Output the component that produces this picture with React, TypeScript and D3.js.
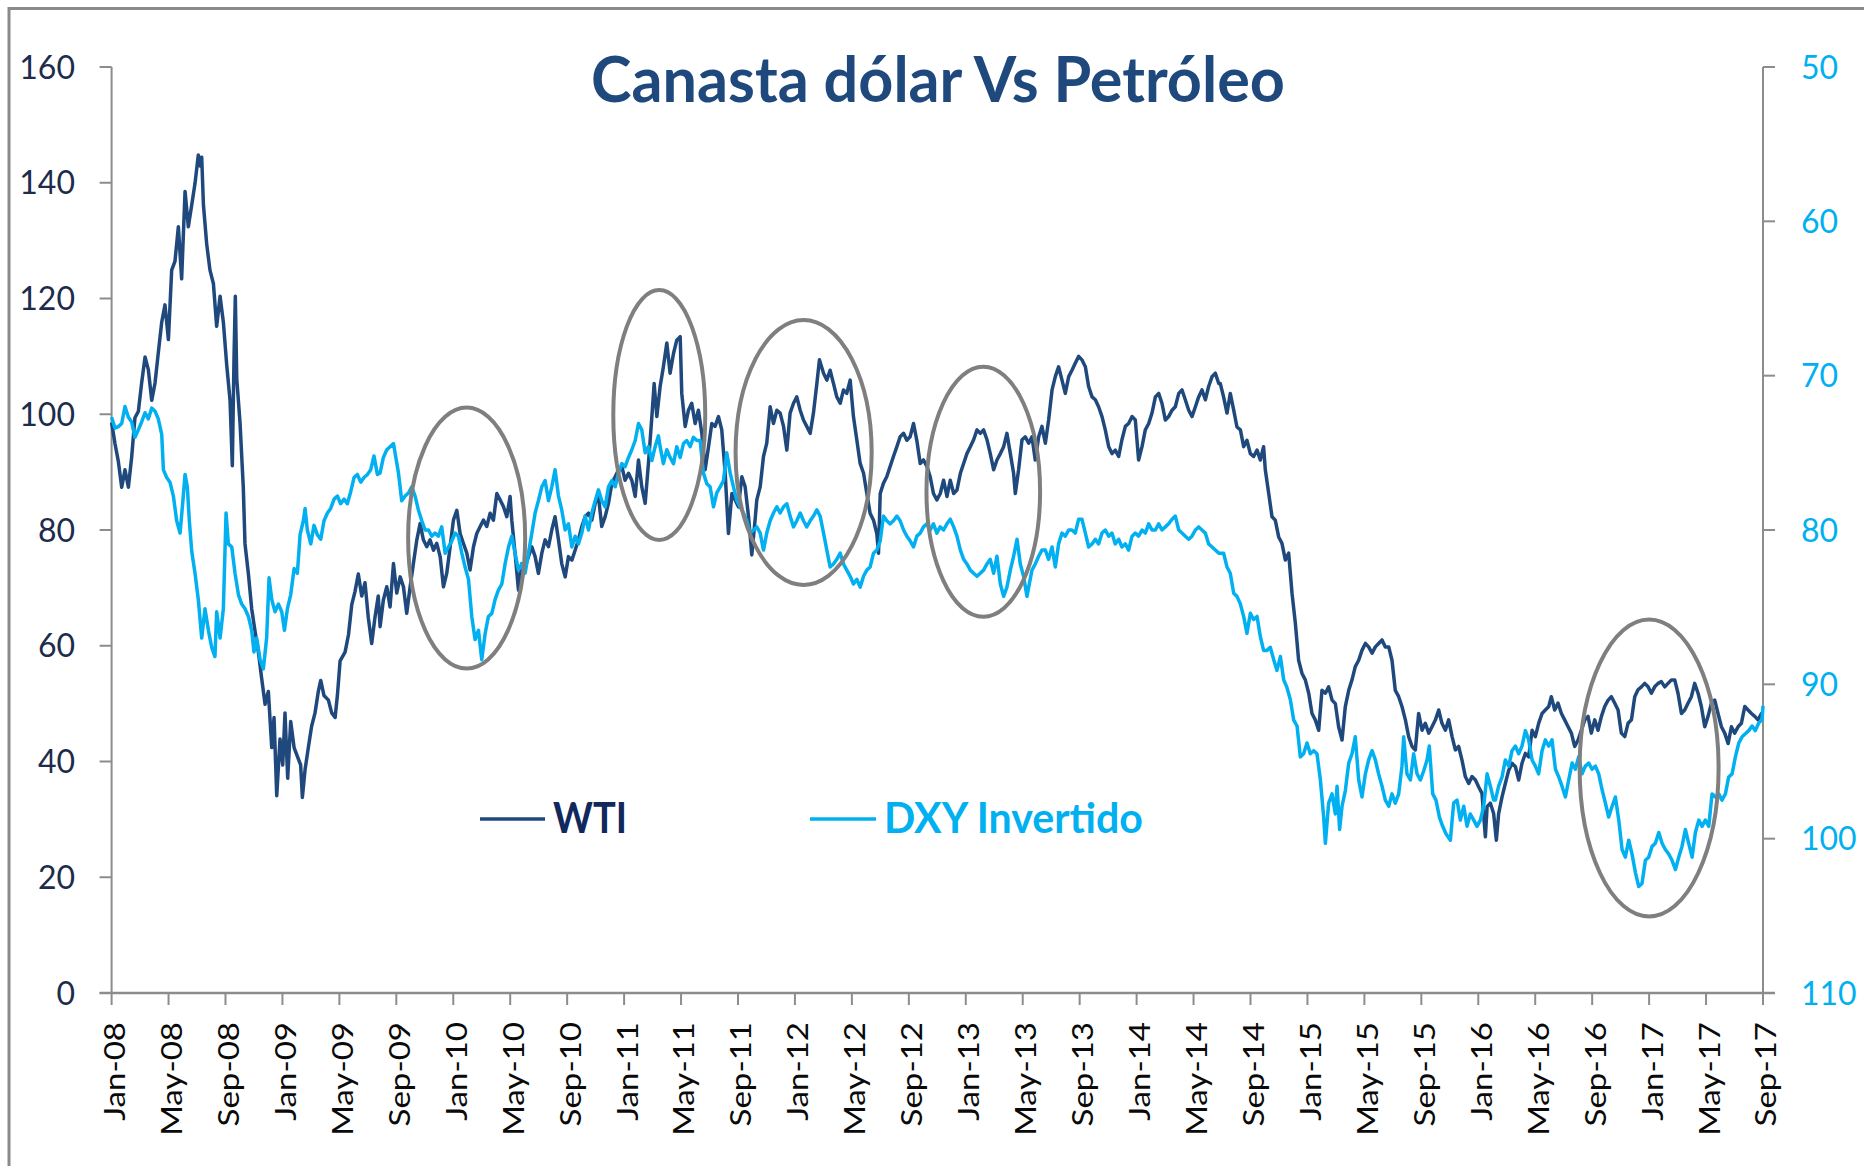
import React from 'react';
import * as d3 from 'd3';

const TITLE = 'Canasta dólar Vs Petróleo';
const WTI_LABEL = 'WTI';
const DXY_LABEL = 'DXY Invertido';

const leftTicks = [0, 20, 40, 60, 80, 100, 120, 140, 160];
const rightTicks = [50, 60, 70, 80, 90, 100, 110];
const xTickLabels = [
  'Jan-08', 'May-08', 'Sep-08', 'Jan-09', 'May-09', 'Sep-09', 'Jan-10', 'May-10', 'Sep-10',
  'Jan-11', 'May-11', 'Sep-11', 'Jan-12', 'May-12', 'Sep-12', 'Jan-13', 'May-13', 'Sep-13',
  'Jan-14', 'May-14', 'Sep-14', 'Jan-15', 'May-15', 'Sep-15', 'Jan-16', 'May-16', 'Sep-16',
  'Jan-17', 'May-17', 'Sep-17',
];
const MONTHS_PER_TICK = 4;
const MONTH_DOMAIN: [number, number] = [0, 116]; // months since Jan-08

// WTI (USD/bbl) — [months since Jan-08, value]
const wti2008: [number, number][] = [
  [0, 98.6], [0.24, 94.9], [0.47, 91.9], [0.71, 87.4], [0.94, 90.4], [1.18, 87.4], [1.41, 92.6], [1.64, 99.4],
  [1.88, 100.5], [2.11, 105.4], [2.35, 109.9], [2.58, 107.7], [2.82, 102.4], [3.05, 105.4], [3.28, 110.6],
  [3.52, 115.9], [3.75, 118.9], [3.99, 112.9], [4.22, 124.9], [4.45, 126.4], [4.69, 132.4], [4.92, 123.4],
  [5.16, 138.5], [5.39, 132.4], [5.63, 136.2], [5.86, 139.9], [6.09, 144.8], [6.21, 142.9], [6.33, 144.4],
  [6.45, 136.2], [6.68, 129.4], [6.91, 124.9], [7.15, 122.6], [7.38, 115.2], [7.62, 120.4], [7.85, 115.9],
  [8.09, 108.4], [8.32, 102.4], [8.48, 91.1], [8.6, 109.9], [8.69, 120.4], [8.79, 106.2], [9.02, 98.6],
  [9.25, 87.4], [9.37, 77.6], [9.61, 72.4], [9.84, 66.4], [10.07, 62.6], [10.31, 58.9], [10.54, 54.4],
  [10.78, 49.9], [11.01, 52.1], [11.25, 42.4], [11.41, 47.6], [11.6, 34.1], [11.83, 43.9], [12.02, 39.4],
  [12.18, 48.4], [12.37, 37.1], [12.58, 46.9], [12.82, 42.4], [13.05, 40.9], [13.28, 39.4], [13.4, 33.8],
  [13.59, 38.6], [13.82, 42.4], [14.05, 46.1], [14.29, 48.4], [14.52, 52.1], [14.69, 54.0], [14.92, 51.4],
  [15.23, 50.6], [15.46, 48.4], [15.7, 47.6], [15.86, 51.4], [16.05, 57.4], [16.4, 58.9], [16.64, 61.9],
  [16.87, 67.1], [17.1, 69.4], [17.33, 72.4], [17.57, 68.6], [17.8, 70.9], [18.03, 64.9], [18.27, 60.4],
  [18.5, 64.9], [18.73, 68.6],
];
const wti2010: [number, number][] = [
  [18.86, 63.3], [19.09, 67.9], [19.33, 70.2], [19.56, 66.7], [19.8, 74.2], [20.03, 69.1], [20.27, 71.9],
  [20.5, 70.2], [20.73, 65.6], [20.97, 70.2], [21.2, 74.2], [21.44, 78.3], [21.67, 81.1], [21.9, 78.3],
  [22.14, 77.1], [22.37, 78.3], [22.61, 76.5], [22.84, 77.7], [23.08, 75.4], [23.31, 70.2], [23.54, 72.5],
  [23.78, 77.1], [24.01, 81.7], [24.25, 83.4], [24.48, 79.4], [24.71, 77.7], [24.95, 76.0], [25.18, 73.1],
  [25.42, 77.1], [25.65, 79.4], [25.89, 80.6], [26.12, 81.7], [26.35, 80.6], [26.59, 82.9], [26.82, 81.7],
  [27.06, 86.3], [27.29, 85.2], [27.53, 84.0], [27.76, 82.3], [27.99, 85.8], [28.11, 81.7], [28.34, 76.0],
  [28.58, 69.6], [28.81, 74.2], [29.05, 73.6], [29.28, 75.4], [29.52, 77.1], [29.75, 75.4], [29.98, 72.5],
  [30.22, 76.0], [30.45, 78.3], [30.69, 77.1], [30.92, 80.0], [31.15, 82.3], [31.39, 78.3], [31.62, 74.2],
  [31.86, 71.9], [32.09, 75.4], [32.33, 74.8], [32.56, 76.5], [32.79, 78.3], [33.03, 80.6], [33.26, 82.3],
  [33.5, 82.9], [33.73, 81.7], [33.97, 84.6], [34.2, 85.8], [34.43, 80.6], [34.67, 82.3], [34.9, 84.6],
  [35.14, 88.1], [35.37, 89.2], [35.61, 90.4], [35.84, 91.0], [36.07, 88.6], [36.31, 89.8], [36.54, 88.6],
  [36.78, 85.8], [37.01, 92.1], [37.24, 87.5], [37.48, 84.6], [37.71, 91.5], [37.95, 99.6], [38.11, 105.3],
  [38.3, 99.6],
];
const wti2011: [number, number][] = [
  [38.53, 104.8], [38.76, 108.2], [39.0, 112.3], [39.23, 107.1], [39.47, 110.5], [39.7, 112.8], [39.94, 113.4],
  [40.05, 103.6], [40.29, 97.9], [40.52, 100.7], [40.75, 101.9], [40.99, 98.4], [41.22, 100.7], [41.46, 96.7],
  [41.69, 90.4], [41.93, 94.4], [42.16, 98.4], [42.39, 97.9], [42.63, 99.6], [42.86, 97.3], [43.1, 89.8],
  [43.33, 79.4], [43.57, 86.3], [43.8, 85.2], [44.03, 84.0], [44.27, 89.2], [44.5, 87.5], [44.74, 82.3],
  [44.97, 75.7], [45.2, 81.7], [45.32, 85.2], [45.56, 87.5], [45.79, 92.7], [46.02, 95.0], [46.26, 101.3],
  [46.49, 98.4], [46.73, 100.7], [46.96, 100.2], [47.2, 97.9], [47.43, 93.8], [47.66, 100.2], [47.9, 101.9],
  [48.13, 103.0], [48.37, 100.7], [48.6, 99.0], [48.83, 97.9], [49.07, 96.7], [49.3, 100.2], [49.54, 105.3],
  [49.72, 109.4], [50.01, 107.1], [50.24, 105.9], [50.47, 107.6], [50.71, 105.3], [50.94, 103.0], [51.18, 101.9],
  [51.41, 104.2], [51.64, 103.6], [51.88, 105.9], [52.11, 99.6], [52.35, 95.5], [52.58, 91.5], [52.82, 89.8],
  [53.05, 86.3], [53.28, 82.9], [53.52, 81.7], [53.75, 79.4], [53.87, 76.0], [53.99, 86.3], [54.22, 88.1],
  [54.45, 89.2], [54.69, 91.0], [54.92, 92.7], [55.16, 94.4], [55.39, 96.1], [55.63, 96.7], [55.86, 95.5],
  [56.09, 96.1], [56.33, 98.4], [56.56, 95.5], [56.8, 91.5], [57.03, 92.1], [57.27, 91.0], [57.5, 89.2],
  [57.73, 86.3], [57.97, 85.2],
];
const wti2013: [number, number][] = [
  [58.21, 86.3], [58.44, 88.6], [58.68, 85.8], [58.91, 88.6], [59.15, 86.3], [59.38, 86.9], [59.62, 89.8],
  [59.85, 91.5], [60.08, 93.2], [60.32, 94.4], [60.55, 95.6], [60.79, 97.3], [61.02, 96.7], [61.25, 97.3],
  [61.49, 95.6], [61.72, 93.2], [61.96, 90.4], [62.19, 92.1], [62.43, 93.2], [62.66, 94.4], [62.89, 96.7],
  [63.13, 93.2], [63.36, 89.8], [63.48, 86.3], [63.71, 90.4], [63.95, 95.6], [64.18, 96.1], [64.42, 95.0],
  [64.65, 96.1], [64.88, 92.1], [65.12, 96.1], [65.35, 97.9], [65.59, 95.0], [65.82, 99.0], [66.06, 104.2],
  [66.29, 106.5], [66.52, 108.2], [66.76, 105.9], [66.99, 103.6], [67.23, 106.5], [67.46, 107.6], [67.69, 108.8],
  [67.93, 110.0], [68.16, 109.4], [68.4, 108.2], [68.63, 104.8], [68.87, 103.0], [69.1, 102.5], [69.33, 101.3],
  [69.57, 99.6], [69.8, 97.3], [70.04, 94.4], [70.27, 93.2], [70.5, 93.8], [70.74, 92.7], [70.97, 95.6],
  [71.21, 97.9], [71.44, 98.4], [71.68, 99.6], [71.91, 99.0], [72.14, 92.1], [72.38, 94.4], [72.61, 97.3],
  [72.85, 98.4], [73.08, 100.2], [73.32, 103.0], [73.55, 103.6], [73.78, 101.9], [74.02, 99.0], [74.25, 99.6],
  [74.49, 100.7], [74.72, 101.3], [74.96, 103.6], [75.19, 104.2], [75.42, 102.5], [75.66, 100.7], [75.89, 99.6],
  [76.13, 101.3], [76.36, 103.0], [76.59, 104.2], [76.83, 102.5], [77.06, 104.8], [77.3, 106.5], [77.53, 107.1],
  [77.77, 105.3],
];
const wti2014: [number, number][] = [
  [77.88, 105.3], [78.11, 103.0], [78.35, 100.2], [78.58, 103.6], [78.82, 100.7], [79.05, 97.8], [79.29, 97.3],
  [79.52, 94.4], [79.75, 95.5], [79.99, 93.2], [80.22, 92.7], [80.46, 93.8], [80.69, 92.1], [80.92, 94.4],
  [81.04, 90.4], [81.28, 86.3], [81.51, 82.3], [81.74, 81.7], [81.98, 78.8], [82.21, 77.7], [82.45, 74.8],
  [82.68, 76.0], [82.92, 69.0], [83.15, 63.9], [83.38, 57.5], [83.62, 55.2], [83.85, 54.1], [84.09, 51.8],
  [84.32, 48.3], [84.55, 47.2], [84.79, 45.4], [85.02, 52.3], [85.26, 51.8], [85.49, 52.9], [85.73, 50.6],
  [85.96, 50.0], [86.19, 46.0], [86.43, 43.7], [86.66, 49.5], [86.9, 52.3], [87.13, 54.1], [87.36, 56.4],
  [87.6, 57.5], [87.83, 59.2], [88.07, 60.4], [88.3, 59.8], [88.54, 58.7], [88.77, 59.8], [89.0, 60.4],
  [89.24, 61.0], [89.47, 59.8], [89.71, 59.8], [89.94, 57.5], [90.17, 52.3], [90.41, 51.2], [90.64, 49.5],
  [90.88, 47.2], [91.11, 44.3], [91.35, 42.6], [91.58, 42.0], [91.81, 48.3], [92.05, 45.4], [92.28, 46.6],
  [92.52, 44.9], [92.75, 46.0], [92.99, 47.2], [93.22, 48.9], [93.45, 46.6], [93.69, 45.4], [93.92, 47.2],
  [94.16, 44.3], [94.39, 42.0], [94.62, 42.6], [94.86, 40.2], [95.09, 37.4], [95.33, 36.2], [95.56, 37.4],
  [95.8, 36.8], [96.03, 35.6], [96.26, 34.5], [96.5, 27.0], [96.62, 32.2], [96.85, 32.8], [97.08, 31.0],
  [97.27, 26.4],
];
const wti2016: [number, number][] = [
  [97.43, 31.0], [97.67, 33.9], [97.9, 36.2], [98.14, 38.5], [98.37, 39.7], [98.61, 39.1], [98.84, 36.8],
  [99.07, 39.7], [99.31, 41.4], [99.54, 40.8], [99.78, 45.4], [100.01, 44.3], [100.24, 46.6], [100.48, 48.3],
  [100.71, 48.9], [100.95, 49.5], [101.13, 51.2], [101.37, 48.9], [101.6, 50.1], [101.84, 48.3], [102.07, 47.2],
  [102.31, 46.0], [102.54, 44.9], [102.77, 42.6], [103.01, 43.7], [103.24, 45.4], [103.48, 47.2], [103.71, 47.8],
  [103.94, 44.9], [104.18, 47.2], [104.41, 45.4], [104.65, 47.8], [104.88, 49.5], [105.12, 50.6], [105.35, 51.2],
  [105.58, 50.1], [105.82, 48.9], [106.05, 44.9], [106.29, 44.3], [106.52, 46.6], [106.76, 47.2], [106.99, 51.2],
  [107.22, 52.4], [107.46, 52.9], [107.69, 53.5], [107.93, 52.9], [108.16, 51.8], [108.39, 52.9], [108.63, 53.5],
  [108.86, 53.8], [109.1, 52.9], [109.33, 53.5], [109.57, 54.1], [109.8, 54.1], [110.03, 51.8], [110.27, 48.3],
  [110.5, 48.9], [110.74, 50.1], [110.97, 51.2], [111.2, 53.5], [111.44, 51.8], [111.67, 49.5], [111.91, 46.0],
  [112.14, 47.8], [112.38, 50.1], [112.61, 50.6], [112.84, 48.3], [113.08, 46.0], [113.31, 44.9], [113.55, 43.1],
  [113.78, 46.0], [114.01, 44.9], [114.25, 46.0], [114.48, 46.6], [114.72, 49.5], [114.95, 48.9], [115.19, 48.3],
  [115.42, 47.8], [115.65, 47.2], [115.89, 48.3], [116.0, 48.3],
];

// DXY (plotted on the inverted right axis) — [months since Jan-08, value]
const dxy2008: [number, number][] = [
  [0, 72.7], [0.24, 73.4], [0.47, 73.3], [0.71, 73.1], [0.94, 72.0], [1.18, 72.7], [1.41, 73.0], [1.64, 74.0],
  [1.88, 73.5], [2.11, 73.0], [2.35, 72.4], [2.58, 72.8], [2.82, 72.1], [3.05, 72.3], [3.28, 72.8], [3.52, 73.8],
  [3.64, 76.1], [3.87, 76.6], [4.1, 76.9], [4.34, 77.8], [4.57, 79.4], [4.81, 80.2], [4.99, 78.3], [5.16, 76.4],
  [5.32, 77.2], [5.46, 79.4], [5.63, 81.4], [5.86, 82.8], [6.09, 84.5], [6.33, 87.0], [6.56, 85.1], [6.8, 86.5],
  [7.03, 87.6], [7.26, 88.2], [7.38, 85.3], [7.62, 87.0], [7.85, 85.1], [8.04, 78.9], [8.2, 80.9], [8.44, 81.1],
  [8.67, 82.8], [8.91, 84.2], [9.14, 84.8], [9.37, 85.1], [9.61, 85.6], [9.84, 86.5], [10.0, 87.9], [10.19, 87.0],
  [10.43, 88.4], [10.66, 89.0], [10.89, 87.0], [11.06, 83.1], [11.25, 84.5], [11.48, 85.3], [11.72, 84.8],
  [11.95, 85.3], [12.14, 86.5], [12.35, 85.1], [12.58, 84.2], [12.82, 82.5], [13.05, 82.8], [13.24, 80.3],
  [13.47, 79.4], [13.59, 78.6], [13.75, 80.0], [13.99, 80.9], [14.22, 79.7], [14.45, 80.3], [14.69, 80.6],
  [14.92, 79.4], [15.16, 78.9], [15.39, 78.6], [15.63, 78.0], [15.86, 77.8], [16.09, 78.3], [16.33, 78.0],
  [16.56, 78.3], [16.8, 77.5], [17.03, 76.6], [17.26, 76.4], [17.5, 76.9], [17.73, 76.6], [17.97, 76.4],
  [18.2, 76.1], [18.43, 75.2], [18.67, 76.4],
];
const dxy2010: [number, number][] = [
  [18.86, 76.3], [19.09, 75.3], [19.33, 74.8], [19.56, 74.6], [19.8, 74.4], [19.91, 75.0], [20.15, 76.3],
  [20.38, 78.1], [20.62, 77.8], [20.85, 77.6], [21.08, 77.2], [21.32, 77.8], [21.55, 78.7], [21.79, 79.4],
  [22.02, 80.0], [22.26, 80.0], [22.49, 80.4], [22.72, 80.2], [22.96, 80.4], [23.19, 79.8], [23.43, 81.5],
  [23.66, 81.1], [23.9, 80.7], [24.13, 80.2], [24.36, 80.4], [24.6, 81.5], [24.83, 82.4], [25.07, 83.2],
  [25.3, 85.6], [25.53, 87.1], [25.77, 86.5], [26.0, 88.4], [26.24, 86.7], [26.47, 85.6], [26.71, 85.4],
  [26.94, 84.5], [27.17, 83.9], [27.41, 83.5], [27.64, 82.2], [27.88, 81.1], [28.11, 80.4], [28.34, 81.5],
  [28.58, 82.6], [28.81, 82.2], [29.05, 82.8], [29.28, 81.5], [29.52, 80.2], [29.75, 78.9], [29.98, 78.1],
  [30.22, 77.2], [30.45, 76.8], [30.69, 78.1], [30.92, 77.2], [31.15, 76.1], [31.39, 77.8], [31.62, 78.7],
  [31.86, 80.0], [32.09, 79.6], [32.33, 81.1], [32.56, 80.4], [32.79, 80.9], [33.03, 80.2], [33.26, 79.1],
  [33.5, 80.0], [33.73, 78.9], [33.97, 78.1], [34.2, 77.4], [34.43, 78.1], [34.67, 78.5], [34.9, 77.2],
  [35.14, 76.8], [35.37, 77.2], [35.61, 76.3], [35.84, 75.7], [36.07, 75.9], [36.31, 75.3], [36.54, 74.8],
  [36.78, 74.2], [37.01, 73.1], [37.24, 73.5], [37.48, 75.0], [37.71, 74.6], [37.95, 75.5], [38.18, 74.6],
  [38.41, 73.9],
];
const dxy2011: [number, number][] = [
  [38.53, 74.6], [38.76, 75.7], [39.0, 74.8], [39.23, 75.3], [39.47, 75.7], [39.7, 74.6], [39.94, 75.3],
  [40.17, 74.4], [40.4, 74.2], [40.64, 74.6], [40.87, 74.0], [41.11, 74.2], [41.34, 74.2], [41.57, 76.3],
  [41.81, 77.0], [42.04, 77.2], [42.28, 78.5], [42.51, 77.6], [42.75, 77.2], [42.98, 76.8], [43.21, 75.0],
  [43.45, 76.3], [43.68, 77.2], [43.92, 78.1], [44.15, 78.5], [44.38, 78.9], [44.62, 79.4], [44.85, 80.2],
  [45.09, 80.0], [45.32, 79.8], [45.56, 80.2], [45.79, 81.3], [46.02, 80.2], [46.26, 79.4], [46.49, 78.9],
  [46.73, 78.5], [46.96, 78.9], [47.2, 78.5], [47.43, 78.3], [47.66, 79.1], [47.9, 79.8], [48.13, 79.4],
  [48.37, 78.9], [48.6, 79.4], [48.83, 79.8], [49.07, 79.4], [49.3, 79.1], [49.54, 78.7], [49.77, 79.1],
  [50.01, 80.2], [50.24, 81.3], [50.47, 82.4], [50.71, 82.2], [50.94, 81.9], [51.18, 81.5], [51.41, 82.2],
  [51.64, 82.6], [51.88, 83.0], [52.11, 83.5], [52.35, 83.2], [52.58, 83.7], [52.82, 83.0], [53.05, 82.6],
  [53.28, 82.4], [53.52, 81.5], [53.75, 81.3], [53.99, 80.7], [54.22, 79.1], [54.45, 79.4], [54.69, 79.6],
  [54.92, 79.4], [55.16, 79.1], [55.39, 79.4], [55.63, 80.0], [55.86, 80.4], [56.09, 80.7], [56.33, 81.1],
  [56.56, 80.4], [56.8, 80.2], [57.03, 79.8], [57.27, 79.6], [57.5, 80.0], [57.73, 79.6], [57.97, 80.2],
  [58.2, 79.8], [58.44, 80.0],
];
const dxy2013: [number, number][] = [
  [58.68, 79.6], [58.91, 79.3], [59.15, 79.8], [59.38, 80.4], [59.62, 81.3], [59.85, 81.9], [60.08, 82.2],
  [60.32, 82.6], [60.55, 82.8], [60.79, 83.0], [61.02, 82.8], [61.25, 82.6], [61.49, 82.2], [61.72, 81.9],
  [61.96, 82.8], [62.19, 81.7], [62.43, 83.5], [62.66, 84.3], [62.89, 83.7], [63.13, 82.6], [63.36, 81.7],
  [63.6, 80.6], [63.83, 82.2], [64.06, 83.0], [64.3, 84.3], [64.42, 83.7], [64.65, 82.6], [64.88, 82.2],
  [65.12, 81.7], [65.35, 81.3], [65.59, 81.3], [65.82, 81.9], [66.06, 81.1], [66.29, 82.4], [66.52, 80.9],
  [66.76, 80.2], [66.99, 80.4], [67.23, 80.0], [67.46, 80.0], [67.69, 80.2], [67.93, 79.3], [68.16, 79.3],
  [68.4, 80.2], [68.63, 81.1], [68.87, 80.9], [69.1, 80.6], [69.33, 80.9], [69.57, 80.2], [69.8, 80.0],
  [70.04, 80.4], [70.27, 80.2], [70.5, 80.9], [70.74, 80.6], [70.97, 81.1], [71.21, 80.9], [71.44, 81.3],
  [71.68, 80.4], [71.91, 80.2], [72.14, 80.4], [72.38, 80.0], [72.61, 80.2], [72.85, 79.6], [73.08, 80.0],
  [73.32, 80.0], [73.55, 79.6], [73.78, 80.0], [74.02, 79.8], [74.25, 79.6], [74.49, 79.3], [74.72, 79.1],
  [74.96, 80.0], [75.19, 80.2], [75.42, 80.4], [75.66, 80.6], [75.89, 80.4], [76.13, 80.0], [76.36, 79.8],
  [76.59, 80.0], [76.83, 80.2], [77.06, 80.9], [77.3, 81.1], [77.53, 81.3], [77.77, 81.5],
];
const dxy2014: [number, number][] = [
  [77.88, 81.5], [78.11, 81.5], [78.35, 82.4], [78.58, 82.8], [78.82, 84.1], [79.05, 84.3], [79.29, 84.8],
  [79.52, 85.6], [79.75, 86.7], [79.99, 85.4], [80.22, 85.8], [80.46, 85.6], [80.69, 86.9], [80.92, 87.8],
  [81.16, 87.8], [81.39, 87.6], [81.63, 88.4], [81.86, 89.1], [82.1, 88.2], [82.33, 89.7], [82.56, 90.2],
  [82.8, 91.0], [83.03, 92.3], [83.27, 92.7], [83.5, 94.7], [83.73, 94.5], [83.97, 93.8], [84.2, 94.5],
  [84.44, 94.3], [84.67, 94.5], [84.91, 96.2], [85.14, 98.6], [85.26, 100.3], [85.49, 97.7], [85.73, 97.1],
  [85.96, 98.4], [86.08, 96.6], [86.26, 99.4], [86.43, 97.9], [86.66, 96.9], [86.9, 95.1], [87.13, 94.5],
  [87.36, 93.4], [87.6, 96.2], [87.83, 97.3], [88.07, 95.8], [88.3, 94.9], [88.54, 94.3], [88.77, 94.9],
  [89.0, 95.8], [89.24, 96.6], [89.47, 97.5], [89.71, 97.9], [89.94, 97.1], [90.17, 97.7], [90.41, 97.1],
  [90.64, 95.3], [90.76, 93.4], [90.99, 95.8], [91.23, 96.2], [91.46, 94.5], [91.7, 95.8], [91.93, 96.2],
  [92.17, 95.6], [92.4, 94.9], [92.56, 94.0], [92.8, 97.1], [93.03, 97.5], [93.27, 98.6], [93.5, 99.2],
  [93.74, 99.7], [94.04, 100.1], [94.27, 97.7], [94.51, 97.5], [94.74, 98.8], [94.98, 97.9], [95.21, 99.2],
  [95.44, 98.4], [95.68, 98.8], [95.91, 99.2], [96.15, 98.8], [96.38, 97.9], [96.62, 95.8], [96.85, 96.6],
  [97.08, 97.5],
];
const dxy2016: [number, number][] = [
  [97.2, 97.5], [97.43, 96.6], [97.67, 96.0], [97.9, 94.9], [98.14, 95.3], [98.37, 94.3], [98.61, 94.0],
  [98.84, 94.5], [99.07, 94.0], [99.31, 93.0], [99.54, 93.6], [99.78, 94.9], [100.01, 95.3], [100.24, 95.8],
  [100.48, 94.3], [100.71, 93.6], [100.95, 94.0], [101.18, 93.6], [101.42, 95.5], [101.65, 96.0], [101.88, 96.6],
  [102.12, 97.3], [102.35, 96.2], [102.59, 95.1], [102.82, 95.5], [103.05, 94.7], [103.29, 95.8], [103.52, 95.3],
  [103.76, 95.1], [103.99, 95.5], [104.23, 95.3], [104.46, 95.8], [104.69, 96.8], [104.93, 97.7], [105.16, 98.6],
  [105.4, 97.9], [105.63, 97.3], [105.87, 98.8], [106.1, 100.7], [106.33, 101.2], [106.57, 100.1], [106.8, 101.0],
  [107.04, 102.2], [107.27, 103.1], [107.5, 102.9], [107.74, 101.4], [107.97, 101.2], [108.21, 100.5],
  [108.44, 100.3], [108.68, 99.6], [108.91, 100.3], [109.14, 100.7], [109.38, 101.0], [109.61, 101.4],
  [109.85, 102.0], [110.08, 101.2], [110.31, 100.5], [110.55, 99.4], [110.78, 100.3], [111.02, 101.2],
  [111.25, 99.6], [111.49, 98.8], [111.72, 99.2], [111.95, 98.8], [112.19, 99.2], [112.42, 97.1], [112.66, 97.3],
  [112.89, 97.1], [113.12, 97.5], [113.36, 97.1], [113.59, 96.0], [113.83, 95.8], [114.06, 94.7], [114.3, 93.8],
  [114.53, 93.4], [114.76, 93.2], [115.0, 93.0], [115.23, 92.7], [115.46, 93.0], [115.7, 92.5], [115.93, 92.3],
  [116.0, 91.4],
];

const wtiSeries = [...wti2008, ...wti2010, ...wti2011, ...wti2013, ...wti2014, ...wti2016];
const dxySeries = [...dxy2008, ...dxy2010, ...dxy2011, ...dxy2013, ...dxy2014, ...dxy2016];

// Highlight ellipses, in data units (month, WTI value, radius in months, radius in WTI units)
const highlights = [
  { month: 24.94, value: 78.6, rMonths: 4.11, rValue: 22.55 },
  { month: 38.47, value: 99.87, rMonths: 3.23, rValue: 21.6 },
  { month: 48.61, value: 93.39, rMonths: 4.78, rValue: 22.89 },
  { month: 61.23, value: 86.62, rMonths: 3.99, rValue: 21.6 },
  { month: 108.0, value: 38.88, rMonths: 4.88, rValue: 25.66 },
];

const W = 1864;
const H = 1166;
const PLOT = { left: 111.6, right: 1763, top: 67, bottom: 993 };
const COLORS = {
  wti: '#1F497D',
  dxy: '#00B0F0',
  axis: '#8C8C8C',
  frame: '#8A8A8A',
  ellipse: '#7F7F7F',
  leftText: '#1D2C4C',
  xText: '#0A0A0A',
  title: '#1F497D',
  wtiText: '#10285C',
};
const FONT = "Lato, 'Open Sans', sans-serif";

export default function App() {
  const x = d3.scaleLinear().domain(MONTH_DOMAIN).range([PLOT.left, PLOT.right]);
  const yL = d3.scaleLinear().domain([0, 160]).range([PLOT.bottom, PLOT.top]);
  const yR = d3.scaleLinear().domain([50, 110]).range([PLOT.top, PLOT.bottom]);

  const wtiLine = d3
    .line<[number, number]>()
    .x((d) => x(d[0]))
    .y((d) => yL(d[1]));
  const dxyLine = d3
    .line<[number, number]>()
    .x((d) => x(d[0]))
    .y((d) => yR(d[1]));

  const xTicks = xTickLabels.map((label, i) => ({ label, m: i * MONTHS_PER_TICK }));

  return (
    <svg
      width={W}
      height={H}
      viewBox={`0 0 ${W} ${H}`}
      style={{ position: 'absolute', left: 0, top: 0, display: 'block', background: '#fff' }}
    >
      <rect x={0} y={0} width={W} height={H} fill="#fff" />
      {/* outer frame */}
      <rect x={9} y={8.5} width={W + 40} height={H + 40} fill="none" stroke={COLORS.frame} strokeWidth={3} />

      {/* title */}
      <text
        x={591}
        y={102}
        fontFamily={FONT}
        fontWeight={700}
        fontSize={63}
        fill={COLORS.title}
        textLength={694}
        lengthAdjust="spacingAndGlyphs"
      >
        {TITLE}
      </text>

      {/* axes lines */}
      <line x1={PLOT.left} x2={PLOT.left} y1={PLOT.top} y2={PLOT.bottom} stroke={COLORS.axis} strokeWidth={2} />
      <line x1={PLOT.right} x2={PLOT.right} y1={PLOT.top} y2={PLOT.bottom} stroke={COLORS.axis} strokeWidth={2} />

      {/* left ticks & labels */}
      {leftTicks.map((t) => (
        <g key={`l${t}`}>
          <line x1={PLOT.left - 12} x2={PLOT.left} y1={yL(t)} y2={yL(t)} stroke={COLORS.axis} strokeWidth={2} />
          <text
            x={75}
            y={yL(t)}
            dy="0.36em"
            textAnchor="end"
            fontFamily={FONT}
            fontSize={32}
            fill={COLORS.leftText}
          >
            {t}
          </text>
        </g>
      ))}

      {/* right ticks & labels */}
      {rightTicks.map((t) => (
        <g key={`r${t}`}>
          <line x1={PLOT.right} x2={PLOT.right + 12} y1={yR(t)} y2={yR(t)} stroke={COLORS.axis} strokeWidth={2} />
          <text
            x={1801}
            y={yR(t)}
            dy="0.36em"
            textAnchor="start"
            fontFamily={FONT}
            fontSize={32}
            fill={COLORS.dxy}
          >
            {t}
          </text>
        </g>
      ))}

      {/* x ticks & labels */}
      {xTicks.map((t) => (
        <g key={t.label}>
          <line x1={x(t.m)} x2={x(t.m)} y1={PLOT.bottom} y2={PLOT.bottom + 12} stroke={COLORS.axis} strokeWidth={2} />
          <g transform={`translate(${x(t.m) + 3},${1022}) rotate(-90) scale(1.14,1)`}>
            <text x={0} y={0} dy="0.36em" textAnchor="end" fontFamily={FONT} fontSize={29} fill={COLORS.xText}>
              {t.label}
            </text>
          </g>
        </g>
      ))}
      <line x1={PLOT.left - 12} x2={PLOT.right + 12} y1={PLOT.bottom} y2={PLOT.bottom} stroke={COLORS.axis} strokeWidth={2.5} />

      {/* series */}
      <path d={wtiLine(wtiSeries) || ''} fill="none" stroke={COLORS.wti} strokeWidth={3.5} strokeLinejoin="round" />
      <path d={dxyLine(dxySeries) || ''} fill="none" stroke={COLORS.dxy} strokeWidth={3.5} strokeLinejoin="round" />

      {/* highlight ellipses */}
      {highlights.map((h, i) => (
        <ellipse
          key={i}
          cx={x(h.month)}
          cy={yL(h.value)}
          rx={x(h.month + h.rMonths) - x(h.month)}
          ry={yL(h.value) - yL(h.value + h.rValue)}
          fill="none"
          stroke={COLORS.ellipse}
          strokeWidth={4}
        />
      ))}

      {/* legend */}
      <line x1={480} x2={545} y1={819} y2={819} stroke={COLORS.wti} strokeWidth={3.5} />
      <text
        x={553}
        y={833}
        fontFamily={FONT}
        fontWeight={700}
        fontSize={42}
        fill={COLORS.wtiText}
        textLength={74}
        lengthAdjust="spacingAndGlyphs"
      >
        {WTI_LABEL}
      </text>
      <line x1={810} x2={876} y1={819} y2={819} stroke={COLORS.dxy} strokeWidth={3.5} />
      <text
        x={884}
        y={833}
        fontFamily={FONT}
        fontWeight={700}
        fontSize={42}
        fill={COLORS.dxy}
        textLength={259}
        lengthAdjust="spacingAndGlyphs"
      >
        {DXY_LABEL}
      </text>
    </svg>
  );
}
